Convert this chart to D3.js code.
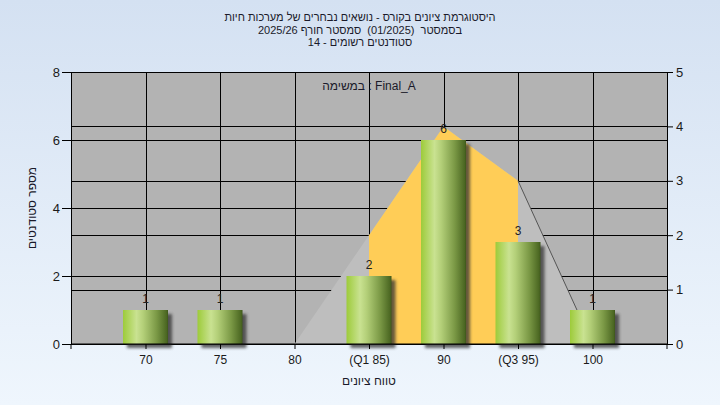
<!DOCTYPE html>
<html>
<head>
<meta charset="utf-8">
<script src="https://cdn.jsdelivr.net/npm/d3@7"></script>
<style>
  body { margin: 0; }
  svg text { font-family: "Liberation Sans", Arial, sans-serif; }
</style>
</head>
<body>
<svg width="720" height="405"></svg>
<script>
// chart data
var categories = ["70", "75", "80", "(Q1 85)", "90", "(Q3 95)", "100"];
var counts = [1, 1, 0, 2, 6, 3, 1];          // students per grade range (left axis)
var curve = [0, 0, 0, 2, 4, 3, 0];           // distribution curve (right axis)
var leftTicks = [0, 2, 4, 6, 8];
var rightTicks = [0, 1, 2, 3, 4, 5];
var titleLines = ["היסטוגרמת ציונים בקורס - נושאים נבחרים של מערכות חיות",
                  "בסמסטר  (01/2025)  סמסטר חורף 2025/26",
                  "סטודנטים רשומים - 14"];
var q1 = 3, q3 = 5; // indexes of quartile categories

var svg = d3.select("svg");
var pLeft = 71, pRight = 667, pTop = 72, pBottom = 344;

var defs = svg.append("defs");
var bg = defs.append("linearGradient").attr("id", "bg")
    .attr("x1", 0).attr("y1", 0).attr("x2", 0).attr("y2", 1);
bg.append("stop").attr("offset", "0%").attr("stop-color", "#d4e1f2");
bg.append("stop").attr("offset", "100%").attr("stop-color", "#eff6fd");

var bar = defs.append("linearGradient").attr("id", "bar")
    .attr("x1", 0).attr("y1", 0).attr("x2", 1).attr("y2", 0);
[["0%", "#9dcb3a"], ["30%", "#c9e291"], ["45%", "#b3cf78"], ["75%", "#7a9845"], ["97%", "#4b6722"], ["100%", "#3d551b"]]
  .forEach(function(s){ bar.append("stop").attr("offset", s[0]).attr("stop-color", s[1]); });

var shadow = defs.append("filter").attr("id", "shadow")
    .attr("x", "-20%").attr("y", "-20%").attr("width", "150%").attr("height", "150%");
shadow.append("feGaussianBlur").attr("stdDeviation", 1.6);

svg.append("rect").attr("width", 720).attr("height", 405).attr("fill", "url(#bg)");

var x = d3.scalePoint().domain(categories).range([pLeft, pRight]).padding(1);
var yL = d3.scaleLinear().domain([0, 8]).range([pBottom, pTop]);
var yR = d3.scaleLinear().domain([0, 5]).range([pBottom, pTop]);

// plot area
svg.append("rect").attr("x", pLeft).attr("y", pTop)
    .attr("width", pRight - pLeft).attr("height", pBottom - pTop).attr("fill", "#b3b3b3");

// grid
var grid = svg.append("g").attr("stroke", "#000").attr("stroke-width", 1);
grid.selectAll(".vg").data(categories).enter().append("line")
    .attr("x1", function(d){ return Math.round(x(d)) + 0.5; })
    .attr("x2", function(d){ return Math.round(x(d)) + 0.5; })
    .attr("y1", pTop).attr("y2", pBottom);
grid.selectAll(".hl").data(leftTicks).enter().append("line")
    .attr("x1", pLeft).attr("x2", pRight)
    .attr("y1", function(d){ return Math.round(yL(d)) + 0.5; })
    .attr("y2", function(d){ return Math.round(yL(d)) + 0.5; });
grid.selectAll(".hr").data(rightTicks).enter().append("line")
    .attr("x1", pLeft).attr("x2", pRight)
    .attr("y1", function(d){ return Math.round(yR(d)) + 0.5; })
    .attr("y2", function(d){ return Math.round(yR(d)) + 0.5; });

// curve areas
var pts = categories.map(function(c, i){ return {c: c, v: curve[i], i: i}; });
var area = d3.area()
    .x(function(d){ return x(d.c); })
    .y0(pBottom)
    .y1(function(d){ return yR(d.v); });
svg.append("path").datum(pts).attr("d", area).attr("fill", "#bebebe");
svg.append("path").datum(pts.filter(function(d){ return d.i >= q1 && d.i <= q3; }))
    .attr("d", area).attr("fill", "#ffcd57");
svg.append("path").datum(pts.filter(function(d){ return d.i >= q3; }))
    .attr("d", d3.line().x(function(d){ return x(d.c); }).y(function(d){ return yR(d.v); }))
    .attr("fill", "none").attr("stroke", "#555").attr("stroke-width", 1);

// bars
var bw = 45;
var data = categories.map(function(c, i){ return {c: c, v: counts[i]}; }).filter(function(d){ return d.v > 0; });
svg.selectAll(".sh").data(data).enter().append("rect")
    .attr("x", function(d){ return x(d.c) - bw / 2 + 4; })
    .attr("y", function(d){ return yL(d.v) + 4; })
    .attr("width", bw).attr("height", function(d){ return pBottom - yL(d.v); })
    .attr("fill", "#333").attr("opacity", 0.75).attr("filter", "url(#shadow)");
svg.selectAll(".bar").data(data).enter().append("rect")
    .attr("x", function(d){ return x(d.c) - bw / 2; })
    .attr("y", function(d){ return yL(d.v); })
    .attr("width", bw).attr("height", function(d){ return pBottom - yL(d.v); })
    .attr("fill", "url(#bar)");
svg.selectAll(".lbl").data(data).enter().append("text")
    .attr("x", function(d){ return x(d.c); })
    .attr("y", function(d){ return yL(d.v) - 7; })
    .attr("text-anchor", "middle").attr("font-size", 12).attr("fill", "#222")
    .text(function(d){ return d.v; });

// axes
var axL = svg.append("g").attr("transform", "translate(" + pLeft + ",0)")
    .call(d3.axisLeft(yL).tickValues(leftTicks).tickFormat(d3.format("d")).tickSize(9).tickPadding(2));
var axR = svg.append("g").attr("transform", "translate(" + pRight + ",0)")
    .call(d3.axisRight(yR).tickValues(rightTicks).tickFormat(d3.format("d")).tickSize(6).tickPadding(3));
var axB = svg.append("g").attr("transform", "translate(0," + pBottom + ")")
    .call(d3.axisBottom(x).tickSize(5).tickPadding(6));
axB.select(".domain").attr("d", "M" + pLeft + ",5V0H" + pRight + "V5");
[axL, axR, axB].forEach(function(a){
  a.selectAll("text").attr("font-size", 12).attr("fill", "#1a1a1a")
      .attr("font-family", "Liberation Sans, Arial, sans-serif");
  a.selectAll("line,path").attr("stroke", "#000");
});
axL.selectAll("text").attr("font-size", 13);
axR.selectAll("text").attr("font-size", 13);

// texts
svg.selectAll(".title").data(titleLines).enter().append("text")
    .attr("x", 360).attr("y", function(d, i){ return 21 + i * 12.5; })
    .attr("text-anchor", "middle").attr("direction", "rtl")
    .style("white-space", "pre")
    .attr("font-size", 11).attr("fill", "#1a1a2a")
    .text(function(d){ return d; });
svg.append("text").attr("x", (pLeft + pRight) / 2).attr("y", 90)
    .attr("text-anchor", "middle").attr("font-size", 12).attr("fill", "#1a1a2a")
    .text("במשימה : Final_A");
svg.append("text").attr("x", (pLeft + pRight) / 2).attr("y", 385)
    .attr("text-anchor", "middle").attr("direction", "rtl").attr("font-size", 12).attr("fill", "#1a1a2a")
    .text("טווח ציונים");
svg.append("text").attr("transform", "translate(36," + (pTop + pBottom) / 2 + ") rotate(-90)")
    .attr("text-anchor", "middle").attr("direction", "rtl").attr("font-size", 12).attr("fill", "#1a1a2a")
    .text("מספר סטודנטים");
</script>
</body>
</html>
